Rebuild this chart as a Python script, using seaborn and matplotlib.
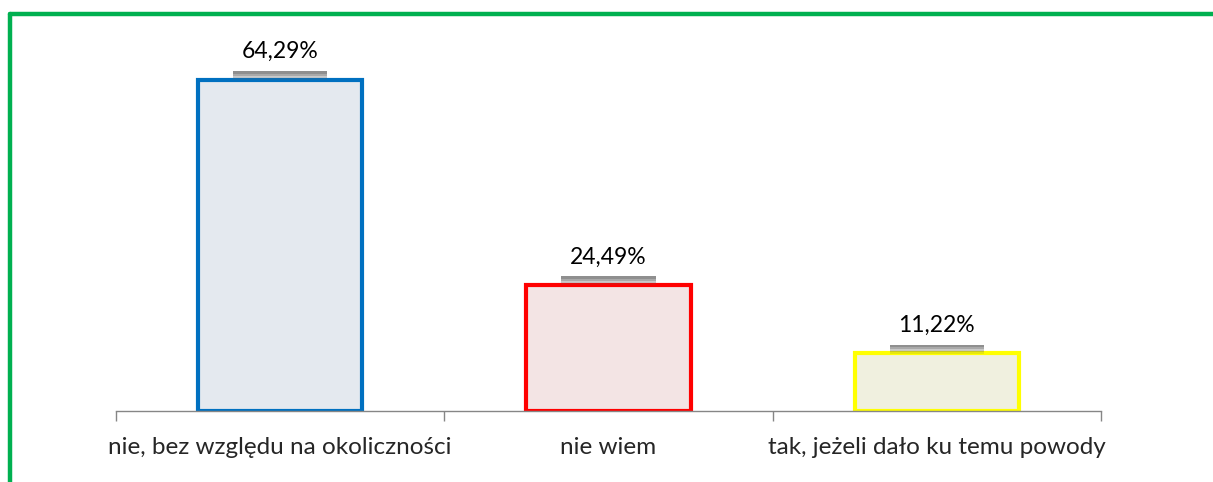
import pandas as pd
import matplotlib.pyplot as plt
import matplotlib.patheffects as pe
import seaborn as sns

# Data
categories = ['nie, bez względu na okoliczności', 'nie wiem', 'tak, jeżeli dało ku temu powody']
values = [64.29, 24.49, 11.22]
labels = ['64,29%', '24,49%', '11,22%']
fill_colors = ['#E2E9F1', '#F5E2E2', '#F3F3DC']
edge_colors = ['#0070C0', '#FF0000', '#FFFF00']

df = pd.DataFrame({'kategoria': categories, 'procent': values})

sns.set_style('white')
plt.rcParams['font.family'] = ['Lato', 'DejaVu Sans']

fig = plt.figure(figsize=(12.13, 4.82), dpi=100)
ax = fig.add_axes([0.0956, 0.1473, 0.8121, 0.7487])

sns.barplot(data=df, x='kategoria', y='procent', hue='kategoria',
            palette=fill_colors, width=0.5, legend=False, ax=ax)

for patch, ec in zip(ax.patches, edge_colors):
    patch.set_edgecolor(ec)
    patch.set_linewidth(3)

# soft grey shadow under the white label boxes
shadow = [pe.SimplePatchShadow(offset=(0, -d), shadow_rgbFace='#606060', alpha=a)
          for d, a in [(6.5, 0.15), (5, 0.22), (3.5, 0.3), (2, 0.35)]] + [pe.Normal()]

for i, (v, lab) in enumerate(zip(values, labels)):
    t = ax.annotate(lab, xy=(i, v), xytext=(0, 20), textcoords='offset points',
                    ha='center', va='center', fontsize=16.5, color='black',
                    bbox=dict(boxstyle='square,pad=0.38', fc='white', ec='none'))
    t.get_bbox_patch().set_path_effects(shadow)

ax.set_xlim(-0.5, 2.5)
ax.set_ylim(0, 70)
ax.set_xlabel('')
ax.set_ylabel('')
ax.set_yticks([])
ax.set_xticks([0, 1, 2])
ax.set_xticklabels(categories, fontsize=17.5)
ax.set_xticks([-0.5, 0.5, 1.5, 2.5], minor=True)
ax.tick_params(axis='x', which='major', length=0, pad=19)
ax.tick_params(axis='x', which='minor', length=7, width=1, color='#868686', direction='out', bottom=True)

for s in ['top', 'left', 'right']:
    ax.spines[s].set_visible(False)
ax.spines['bottom'].set_color('#868686')
ax.spines['bottom'].set_linewidth(1)

# green frame on top and left
fig.add_artist(plt.Line2D([0.0082, 1.0], [0.9715, 0.9715], color='#00B050', lw=3.2, transform=fig.transFigure))
fig.add_artist(plt.Line2D([0.0082, 0.0082], [0.0, 0.9715], color='#00B050', lw=3.2, transform=fig.transFigure))

plt.savefig('out.png', dpi=100)
